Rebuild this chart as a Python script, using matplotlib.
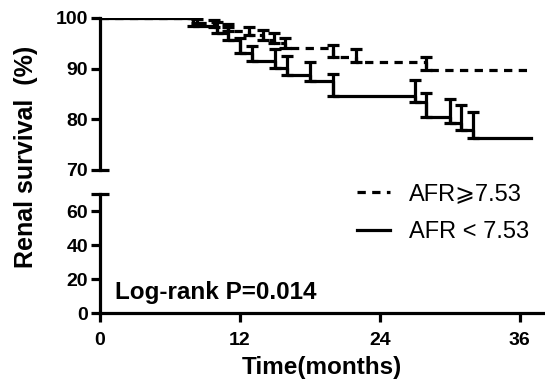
import matplotlib
matplotlib.use("Agg")
import matplotlib.pyplot as plt
import numpy as np

plt.rcParams['font.family'] = ['Liberation Sans', 'DejaVu Sans']

# --- Kaplan-Meier data (months, % surviving) ---
# AFR >= 7.53 (dashed)
hi_times = [8.3, 9.8, 11.0, 12.8, 14.0, 14.9, 15.9, 20.0, 22.0, 28.0]
hi_surv = [99.0, 98.2, 97.4, 96.6, 95.6, 95.0, 94.0, 92.3, 91.3, 89.7]
hi_se = [0.9, 1.4, 1.4, 1.6, 2.0, 2.0, 2.0, 2.4, 2.6, 2.6]
# AFR < 7.53 (solid)
lo_times = [8.0, 10.0, 11.0, 12.0, 13.0, 15.0, 16.0, 18.0, 20.0, 27.0, 28.0, 30.0, 31.0, 32.0]
lo_surv = [98.4, 97.0, 95.6, 93.0, 91.5, 90.1, 88.7, 87.5, 84.6, 83.4, 80.4, 79.3, 77.8, 76.3]
lo_se = [1.6, 2.2, 2.6, 3.1, 3.0, 3.8, 3.8, 3.8, 4.3, 4.3, 4.7, 4.6, 5.0, 5.1]
END_TIME = 37.0

x_ticks = [0, 12, 24, 36]
top_yticks = [80, 90, 100]
bot_yticks = [0, 20, 40, 60]

LW = 2.3
DASH = (0, (2.6, 2.0))
W, H = 545, 386


def px(x0, y0, x1, y1):
    """pixel box (top-left origin) -> figure fraction rect"""
    return [x0 / W, 1 - y1 / H, (x1 - x0) / W, (y1 - y0) / H]


fig = plt.figure(figsize=(W / 100, H / 100), dpi=100)
ax_top = fig.add_axes(px(100, 18, 543, 169.5))
ax_bot = fig.add_axes(px(100, 194, 543, 313))

for ax in (ax_top, ax_bot):
    ax.set_xlim(0, 38)
    for s in ("top", "right"):
        ax.spines[s].set_visible(False)
    for s in ("left", "bottom"):
        ax.spines[s].set_linewidth(LW)
    ax.tick_params(width=LW, length=6.5, labelsize=14, pad=2)
    ax.patch.set_alpha(0)

ax_top.set_ylim(70, 100)
ax_top.spines["bottom"].set_visible(False)
ax_top.set_xticks([])
ax_top.set_yticks(top_yticks)
ax_top.set_yticks([70], labels=["70"], minor=True)
ax_top.tick_params(axis="y", which="minor", direction="inout", length=13, width=LW,
                   labelsize=14, pad=2)

ax_bot.set_ylim(0, 70)
ax_bot.set_yticks(bot_yticks)
ax_bot.set_yticks([70], labels=[""], minor=True)
ax_bot.tick_params(axis="y", which="minor", direction="inout", length=13, width=LW)
ax_bot.set_xticks(x_ticks)
ax_bot.tick_params(axis="x", pad=7)
ax_bot.spines["bottom"].set_bounds(0, 38)

for ax in (ax_top, ax_bot):
    for lab in ax.get_xticklabels(which="both") + ax.get_yticklabels(which="both"):
        lab.set_fontweight("bold")


def km(times, surv):
    t = [0.0] + list(times) + [END_TIME]
    s = [100.0] + list(surv) + [surv[-1]]
    return t, s


t, s = km(hi_times, hi_surv)
ax_top.step(t, s, where="post", color="black", lw=LW, ls=DASH, label="AFR\u2A7E7.53")
ax_top.errorbar(hi_times, hi_surv, yerr=[np.zeros(len(hi_se)), hi_se], fmt="none",
                ecolor="black", elinewidth=LW, capsize=4, capthick=LW)

t, s = km(lo_times, lo_surv)
ax_top.step(t, s, where="post", color="black", lw=LW, label="AFR < 7.53")
ax_top.errorbar(lo_times, lo_surv, yerr=[np.zeros(len(lo_se)), lo_se], fmt="none",
                ecolor="black", elinewidth=LW, capsize=4, capthick=LW)

handles, labels = ax_top.get_legend_handles_labels()
fig.legend(handles, labels, loc="upper left", bbox_to_anchor=(357 / W, 1 - 183 / H),
           frameon=False, fontsize=17, handlelength=1.4, handletextpad=0.8,
           labelspacing=0.68, borderpad=0, borderaxespad=0)

ax_bot.set_xlabel("Time(months)", fontsize=17.5, fontweight="bold", labelpad=5)
fig.text(26 / W, 1 - 157 / H, "Renal survival  (%)", rotation=90, ha="center",
         va="center", fontsize=18, fontweight="bold")
fig.text(115 / W, 1 - 293 / H, "Log-rank P=0.014", ha="left", va="center",
         fontsize=17.5, fontweight="bold")

fig.savefig("out.png", dpi=100)
